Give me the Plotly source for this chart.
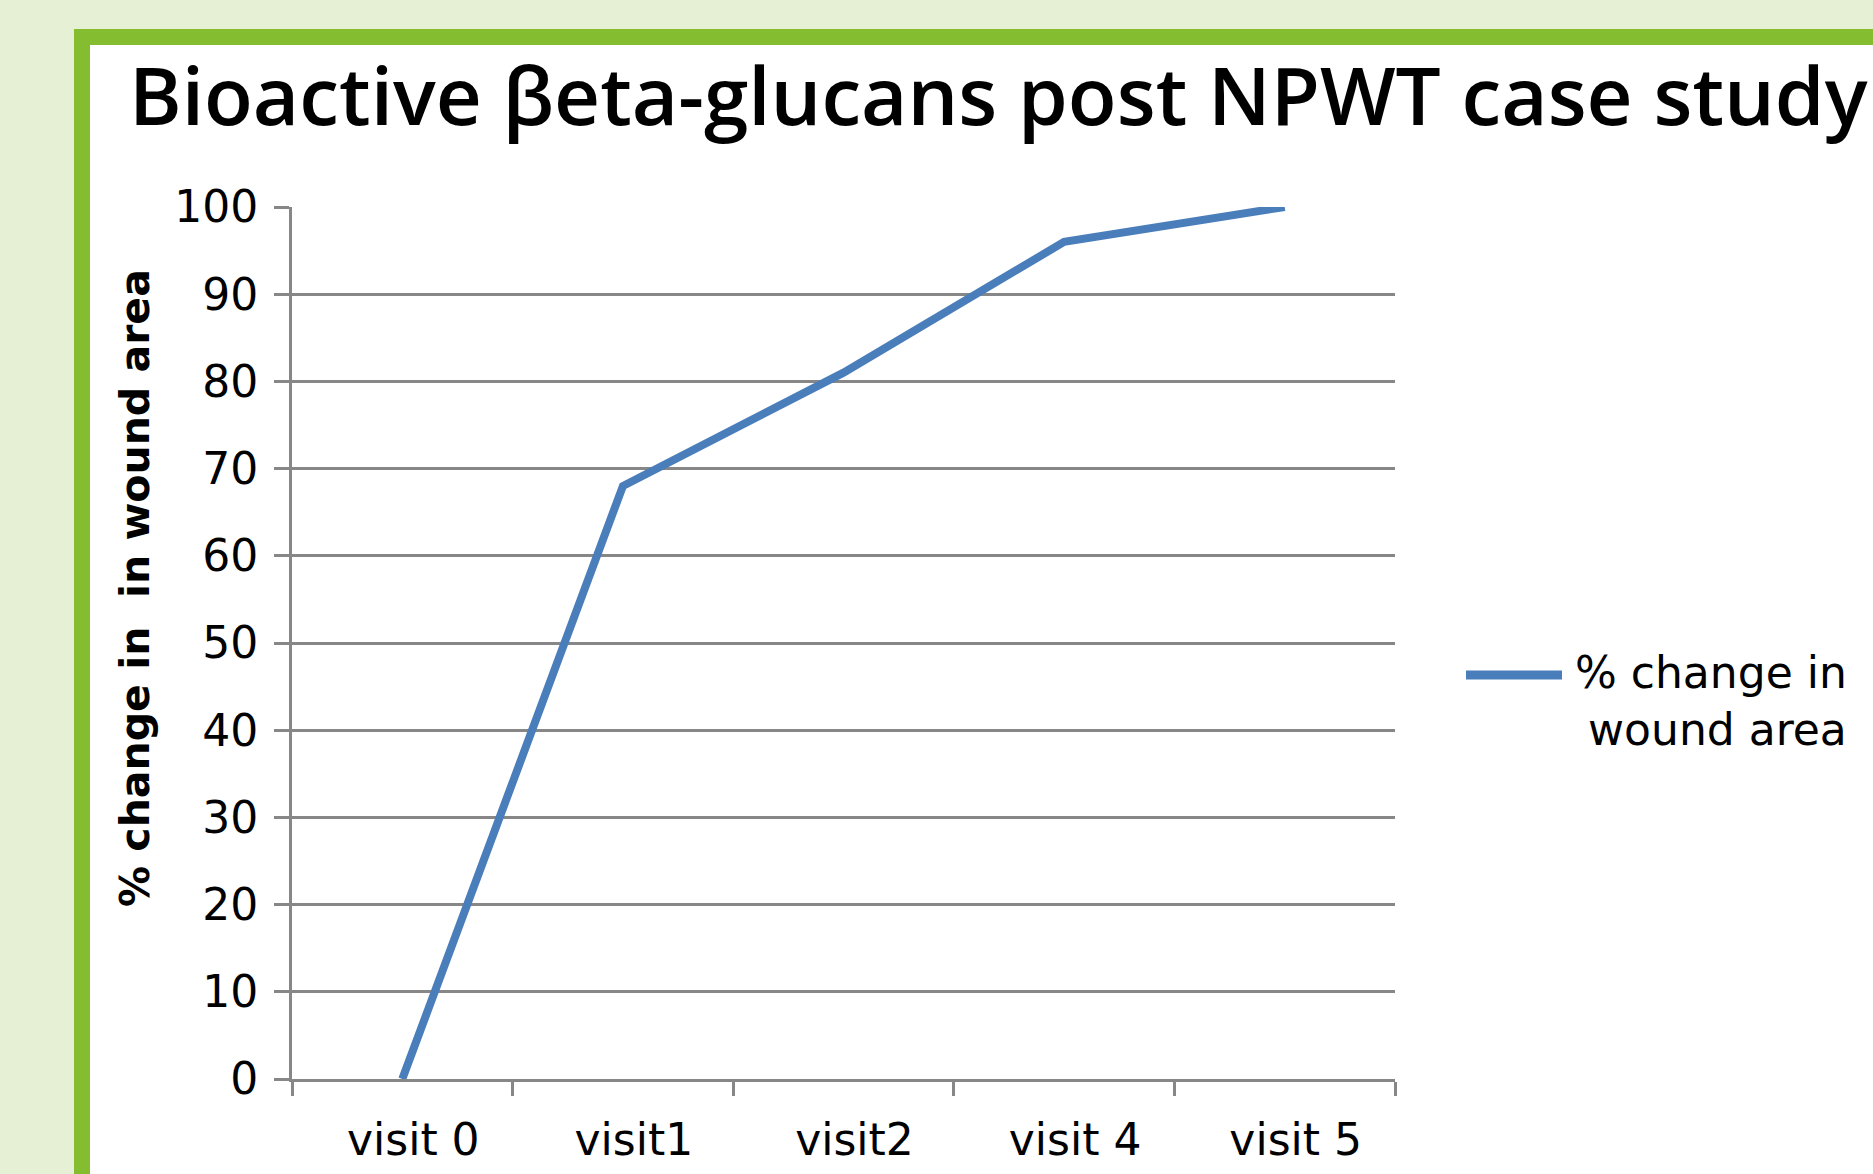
import plotly.graph_objects as go

# ---- data ----
categories = ["visit 0", "visit1", "visit2", "visit 4", "visit 5"]
pct_change = [0, 68, 81, 96, 100]
series_name = "% change in<br>wound area"
title_text = "Bioactive βeta-glucans post NPWT case study"
y_title = "% change in  in wound area"
y_ticks = list(range(0, 101, 10))

W, H = 1873, 1174
L, R, T, B = 292, 478, 207, 95
PW, PH = W - L - R, H - T - B

def px(x):
    return (x - L) / PW

def py(y):
    return (H - B - y) / PH

TFONT = "Open Sans"
FONT = "DejaVu Sans"
GRID = "#878787"
BLUE = "#4A7EBB"

fig = go.Figure()
fig.add_trace(go.Scatter(
    x=categories, y=pct_change, mode="lines", name=series_name,
    line=dict(color=BLUE, width=8), showlegend=False,
))

# frame: light green page, green border, white card
fig.add_shape(type="rect", xref="paper", yref="paper", layer="below",
              x0=px(82), x1=px(W + 40), y0=py(H + 40), y1=py(37),
              line=dict(color="#84BD2F", width=16), fillcolor="white")

# legend (drawn manually for long swatch)
fig.add_shape(type="line", xref="paper", yref="paper",
              x0=px(1466), x1=px(1562), y0=py(675), y1=py(675),
              line=dict(color=BLUE, width=9))
fig.add_annotation(xref="paper", yref="paper", x=px(1573), y=py(701),
                   xanchor="left", yanchor="middle", text=series_name,
                   showarrow=False, align="right",
                   font=dict(family=FONT, size=44, color="black"))

# y-axis title
fig.add_annotation(xref="paper", yref="paper", x=px(135), y=py(588),
                   xanchor="center", yanchor="middle", text=y_title, textangle=-90,
                   showarrow=False, font=dict(family=FONT, size=41, color="black", weight="bold"))

fig.update_layout(
    width=W, height=H,
    margin=dict(l=L, r=R, t=T, b=B, autoexpand=False),
    paper_bgcolor="#E5F0D4",
    plot_bgcolor="rgba(0,0,0,0)",
    title=dict(text=title_text, x=129 / W, xanchor="left", xref="container",
               y=1 - 97 / H, yanchor="middle", yref="container",
               font=dict(family=TFONT, size=80, color="black", weight=600)),
    font=dict(family=FONT, color="black"),
    xaxis=dict(type="category", range=[-0.5, 4.5], tickson="boundaries",
               ticks="outside", ticklen=14, tickwidth=3, tickcolor=GRID,
               showline=True, linecolor=GRID, linewidth=3, showgrid=False,
               tickfont=dict(family=FONT, size=44, color="black"),
               ticklabelstandoff=20, ticklabelshift=11, zeroline=False),
    yaxis=dict(range=[0, 100], tickvals=y_ticks, ticks="outside", ticklen=15,
               tickwidth=3, tickcolor=GRID, showline=True, linecolor=GRID,
               linewidth=3, showgrid=True, gridcolor=GRID, gridwidth=3,
               zeroline=False, tickfont=dict(family=FONT, size=44, color="black"),
               ticklabelstandoff=7),
)

fig.write_html("out.html", config={"displayModeBar": False},
               post_script="document.body.style.margin='0';document.body.style.overflow='hidden';")
